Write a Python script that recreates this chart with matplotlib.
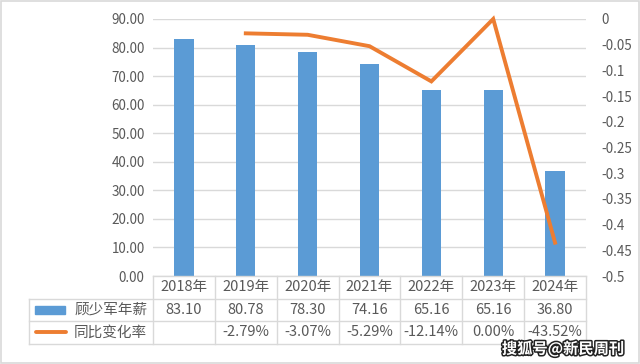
import matplotlib
matplotlib.use("Agg")
import matplotlib.pyplot as plt
import matplotlib.patheffects as pe
from matplotlib.patches import Rectangle
from matplotlib.lines import Line2D

plt.rcParams['font.family'] = ['Noto Sans CJK SC', 'DejaVu Sans']

years = ["2018年", "2019年", "2020年", "2021年", "2022年", "2023年", "2024年"]
salary = [83.10, 80.78, 78.30, 74.16, 65.16, 65.16, 36.80]
change = [None, -0.0279, -0.0307, -0.0529, -0.1214, 0.0, -0.4352]
salary_labels = ["83.10", "80.78", "78.30", "74.16", "65.16", "65.16", "36.80"]
change_labels = ["", "-2.79%", "-3.07%", "-5.29%", "-12.14%", "0.00%", "-43.52%"]
series_names = ["顾少军年薪", "同比变化率"]

BLUE = "#5b9bd5"
ORANGE = "#ed7d31"
TXT = "#595959"
GRID = "#d9d9d9"

fig = plt.figure(figsize=(6.4, 3.64), dpi=100)
W, H = 640, 364
def fx(px): return px / W
def fy(py): return 1 - py / H

AX_L, AX_R, AX_T, AX_B = 153, 586, 19, 276
ax = fig.add_axes([fx(AX_L), fy(AX_B), fx(AX_R) - fx(AX_L), fy(AX_T) - fy(AX_B)])
x = list(range(len(years)))
ax.bar(x, salary, width=0.31, color=BLUE, zorder=2)
ax.set_xlim(-0.5, len(years) - 0.5)
ax.set_ylim(0, 90)
ax.set_yticks(range(0, 91, 10))
ax.set_yticklabels([f"{v:.2f}" for v in range(0, 91, 10)])
ax.grid(axis='y', color=GRID, linewidth=1, zorder=0)
ax.set_xticks([])
for s in ax.spines.values():
    s.set_visible(False)
ax.tick_params(axis='y', length=0, pad=6, labelsize=9.7, labelcolor=TXT)

ax2 = ax.twinx()
xs = [xi for xi, c in zip(x, change) if c is not None]
ys = [c for c in change if c is not None]
ax2.plot(xs, ys, color=ORANGE, linewidth=2.8, solid_joinstyle='miter', zorder=3, clip_on=False)
ax2.set_ylim(-0.5, 0)
ticks = [-0.5 + 0.05 * i for i in range(11)]
ax2.set_yticks(ticks)
lbls = []
for t in ticks:
    r = round(t, 2)
    lbls.append("0" if r == 0 else f"{r:g}")
ax2.set_yticklabels(lbls)
for s in ax2.spines.values():
    s.set_visible(False)
ax2.tick_params(axis='y', length=0, pad=11, labelsize=9.7, labelcolor=TXT)

# overlay axes in pixel coordinates for the data table
ov = fig.add_axes([0, 0, 1, 1], facecolor='none')
ov.set_xlim(0, W)
ov.set_ylim(H, 0)
ov.axis('off')

row_h = 22.5
top = AX_B
LEG_L = 29
colw = (AX_R - AX_L) / len(years)
rows_y = [top + row_h * i for i in range(4)]
ov.add_line(Line2D([AX_L, AX_R], [rows_y[0], rows_y[0]], color=GRID, lw=1))
for yy in rows_y[1:]:
    ov.add_line(Line2D([LEG_L, AX_R], [yy, yy], color=GRID, lw=1))
ov.add_line(Line2D([LEG_L, LEG_L], [rows_y[1], rows_y[3]], color=GRID, lw=1))
for k in range(len(years) + 1):
    xx = AX_L + k * colw
    ov.add_line(Line2D([xx, xx], [rows_y[0], rows_y[3]], color=GRID, lw=1))

FS = 10.5
for i in range(len(years)):
    cx = AX_L + (i + 0.5) * colw
    ov.text(cx, rows_y[0] + row_h / 2, years[i], fontsize=FS, color=TXT, ha='center', va='center')
    ov.text(cx, rows_y[1] + row_h / 2, salary_labels[i], fontsize=FS, color=TXT, ha='center', va='center')
    ov.text(cx, rows_y[2] + row_h / 2, change_labels[i], fontsize=FS, color=TXT, ha='center', va='center')

y1 = rows_y[1] + row_h / 2
y2 = rows_y[2] + row_h / 2
ov.add_patch(Rectangle((35, y1 - 4), 30, 8, color=BLUE))
ov.add_line(Line2D([36, 66], [y2, y2], color=ORANGE, linewidth=2.8, solid_capstyle='round'))
ov.text(74, y1, series_names[0], fontsize=FS, color=TXT, va='center', ha='left')
ov.text(74, y2, series_names[1], fontsize=FS, color=TXT, va='center', ha='left')

# watermark
ov.text(624, 349, "搜狐号@新民周刊", fontsize=11, fontweight='bold', color='white',
        ha='right', va='center',
        path_effects=[pe.withStroke(linewidth=2.2, foreground='#222222')])

# outer border
fig.patches.append(Rectangle((0.002, 0.003), 0.996, 0.994, transform=fig.transFigure,
                             fill=False, edgecolor=GRID, linewidth=1.2))

fig.savefig("out.png", dpi=100)
